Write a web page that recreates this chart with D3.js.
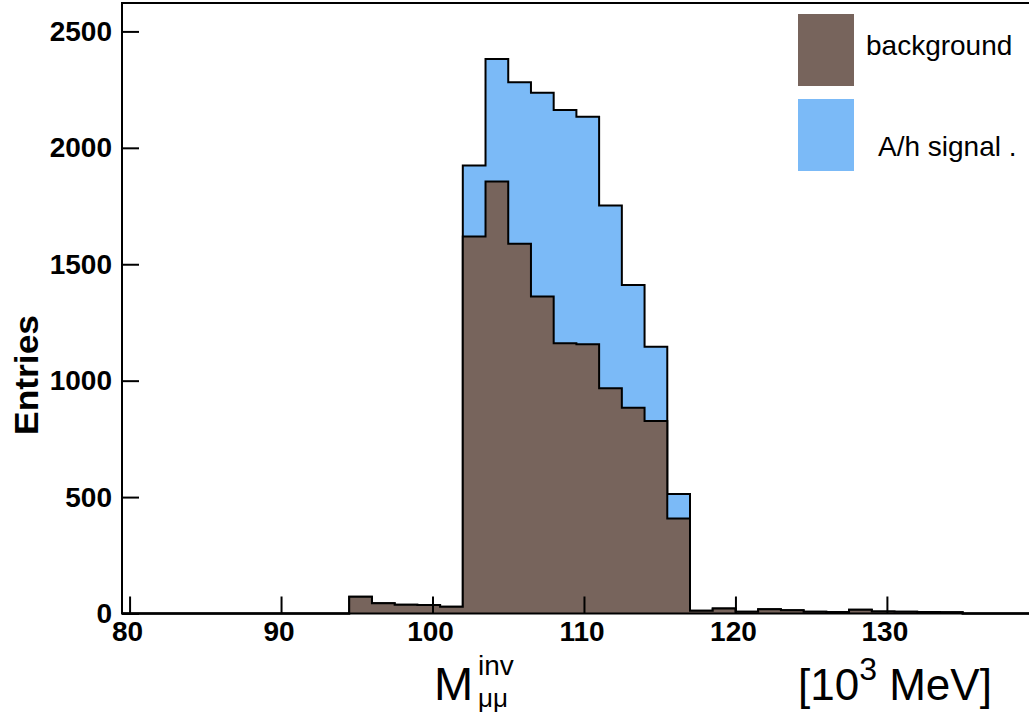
<!DOCTYPE html>
<html><head><meta charset="utf-8">
<script src="https://cdn.jsdelivr.net/npm/d3@7/dist/d3.min.js"></script>
<style>
body{margin:0;background:#fff}
svg{display:block}
text{font-family:"Liberation Sans",Arial,Helvetica,sans-serif}
</style>
</head><body>
<svg id="chart" width="1029" height="713"></svg>
<script>
// ---- data ----
const binLow = [79.5,81,82.5,84,85.5,87,88.5,90,91.5,93,94.5,96,97.5,99,100.5,102,103.5,105,106.5,108,
                109.5,111,112.5,114,115.5,117,118.5,120,121.5,123,124.5,126,127.5,129,130.5,132,133.5,135,136.5,138];
const binWidth = 1.5;
const background = [0,0,0,0,0,0,0,0,0,0, 72,44,38,37,29, 1619,1855,1588,1361,1161,1156,967,884,827,408,
                    12,22,8,18,14,8,6,16,9,8,6,5,0,0,0];
const signal = [0,0,0,0,0,0,0,0,0,0, 0,0,0,0,0, 305,527,694,876,1001,978,785,527,319,105,
                0,0,0,0,0,0,0,0,0,0,0,0,0,0,0];
const seriesNames = ["background", "A/h signal ."];
const xMajorTicks = [80,90,100,110,120,130];
const xMinorTicks = [80,82,84,86,88,90,92,94,96,98,100,102,104,106,108,110,112,114,116,118,120,122,124,126,128,130,132,134,136,138];
const yMajorTicks = [0,500,1000,1500,2000,2500];
const yMinorTicks = [0,100,200,300,400,500,600,700,800,900,1000,1100,1200,1300,1400,1500,1600,1700,1800,1900,2000,2100,2200,2300,2400,2500,2600];
const xDomain = [79.5, 139.5];
const yDomain = [0, 2622];

// ---- style ----
const colBg = "#77645c";
const colSig = "#7bbaf7";
const fontFam = "'Liberation Sans',Arial,Helvetica,sans-serif";

const svg = d3.select("#chart");
const x = d3.scaleLinear().domain(xDomain).range([122, 1030.8]);
const y = d3.scaleLinear().domain(yDomain).range([613.5, 3]);

const stacked = background.map((b,i)=> b + signal[i]);

function histPoints(vals){
  const pts = [[binLow[0], 0]];
  vals.forEach((v,i)=>{ pts.push([binLow[i], v]); pts.push([binLow[i]+binWidth, v]); });
  pts.push([binLow[binLow.length-1]+binWidth, 0]);
  return pts;
}
const area = d3.area().x(d=>x(d[0])).y0(y(0)).y1(d=>y(d[1]));
const line = d3.line().x(d=>x(d[0])).y(d=>y(d[1]));

const plot = svg.append("g");
[[stacked, colSig], [background, colBg]].forEach(([vals,col])=>{
  const pts = histPoints(vals);
  plot.append("path").attr("d", area(pts)).attr("fill", col);
  plot.append("path").attr("d", line(pts)).attr("fill","none")
      .attr("stroke","#000").attr("stroke-width",2).attr("stroke-linejoin","miter");
});

// ---- axes ----
const gx = svg.append("g").attr("transform",`translate(0,${y(0)})`);
gx.call(d3.axisBottom(x).tickValues(xMinorTicks).tickSize(-9).tickFormat(""));
gx.call(d3.axisBottom(x).tickValues(xMajorTicks).tickSize(-17).tickPadding(8).tickFormat(d3.format("d")));
gx.selectAll(".domain").remove();
gx.selectAll("line").attr("stroke","#000").attr("stroke-width",2);
gx.selectAll("text").attr("font-size",28).attr("font-weight","bold").attr("fill","#000")
  .attr("font-family",fontFam).attr("dx",-2.5);

const gy = svg.append("g").attr("transform",`translate(${x(xDomain[0])},0)`);
gy.call(d3.axisLeft(y).tickValues(yMinorTicks).tickSize(-9).tickFormat(""));
gy.call(d3.axisLeft(y).tickValues(yMajorTicks).tickSize(-17).tickPadding(10).tickFormat(d3.format("d")));
gy.selectAll(".domain").remove();
gy.selectAll("line").attr("stroke","#000").attr("stroke-width",2);
gy.selectAll("text").attr("font-size",28).attr("font-weight","bold").attr("fill","#000")
  .attr("font-family",fontFam);

// frame
svg.append("rect").attr("x",x(xDomain[0])).attr("y",y(yDomain[1]))
  .attr("width",x(xDomain[1])-x(xDomain[0])).attr("height",y(0)-y(yDomain[1]))
  .attr("fill","none").attr("stroke","#000").attr("stroke-width",2);

// ---- titles ----
svg.append("text").attr("transform","translate(38,375) rotate(-90)")
  .attr("text-anchor","middle").attr("font-size",34).attr("font-weight","bold")
  .attr("textLength",120).attr("lengthAdjust","spacingAndGlyphs").text("Entries");

svg.append("text").attr("x",434).attr("y",700).attr("font-size",47).text("M");
svg.append("text").attr("x",478).attr("y",675).attr("font-size",28).text("inv");
svg.append("text").attr("x",478).attr("y",707).attr("font-size",26).text("μμ");

const unit = svg.append("text").attr("x",798).attr("y",700).attr("font-size",44);
unit.append("tspan").text("[10");
unit.append("tspan").attr("font-size",32).attr("dy",-20).text("3");
unit.append("tspan").attr("dy",20).text(" MeV]");

// ---- legend ----
const legend = svg.append("g");
const legItems = [
  {name: seriesNames[0], col: colBg, by: 14, tx: 866, ty: 55},
  {name: seriesNames[1], col: colSig, by: 99, tx: 878, ty: 156}
];
legItems.forEach(it=>{
  legend.append("rect").attr("x",798).attr("y",it.by).attr("width",56).attr("height",72).attr("fill",it.col);
  legend.append("text").attr("x",it.tx).attr("y",it.ty).attr("font-size",28).text(it.name);
});
</script>
</body></html>
